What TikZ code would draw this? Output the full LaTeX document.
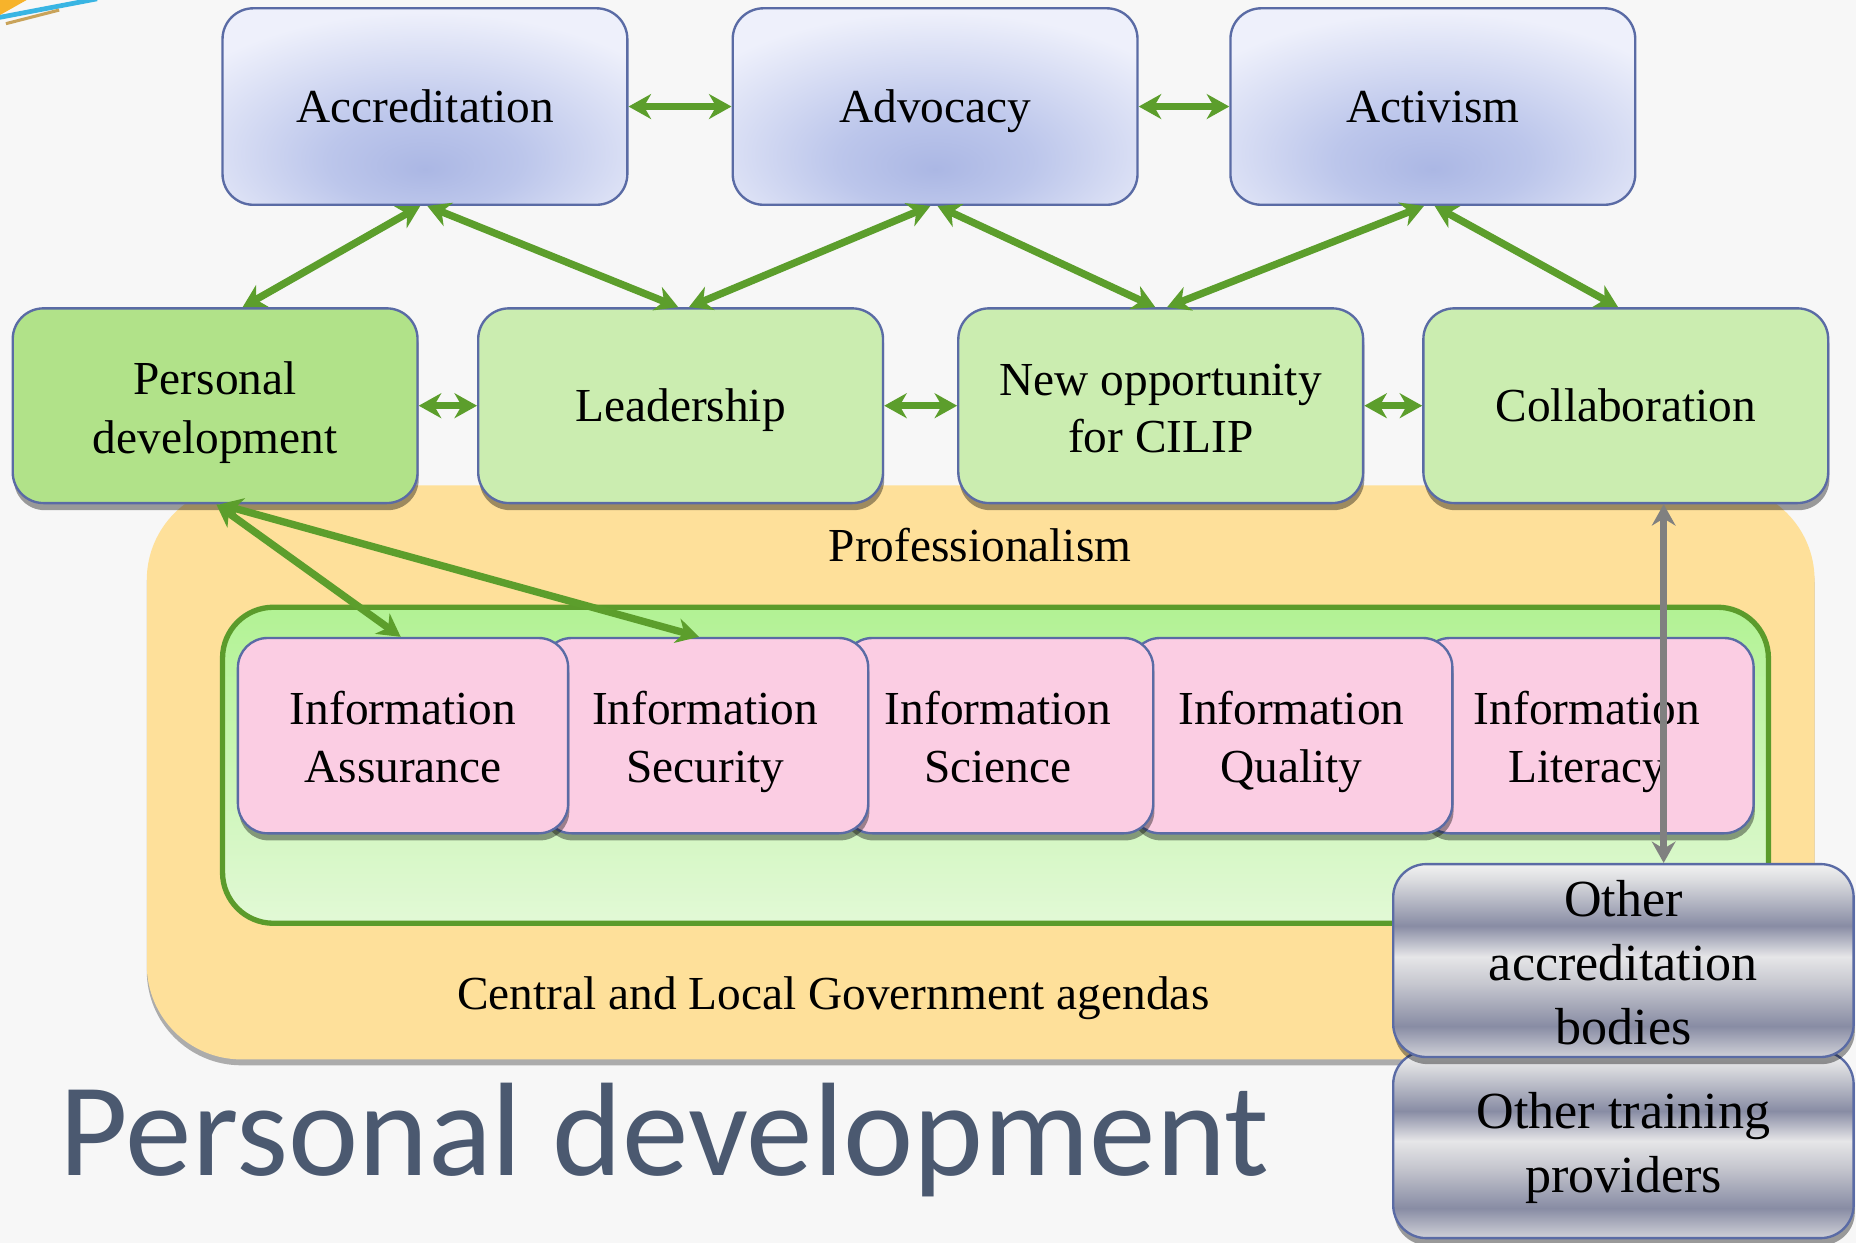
\documentclass[tikz,border=0pt]{standalone}
\usepackage{fontspec}
\setmainfont{Liberation Serif}
\newfontfamily\titlefont{Carlito}
\usetikzlibrary{arrows.meta,shadows,calc}

\newcommand\boxstrut{\rule[-0.24em]{0pt}{1.14em}}
\newcommand\topstrut{\rule{0pt}{1em}}

\definecolor{bgcol}{HTML}{F7F7F7}
\definecolor{bordercol}{HTML}{5A6BA5}
\definecolor{bdark}{HTML}{ABB7E4}
\definecolor{bmid}{HTML}{BCC6EB}
\definecolor{blight}{HTML}{EEF0FB}
\definecolor{pdgreen}{HTML}{B1E289}
\definecolor{lgreen}{HTML}{CBEDB0}
\definecolor{orangecol}{HTML}{FEE09A}
\definecolor{gborder}{HTML}{5B9B2B}
\definecolor{ginnertop}{HTML}{B2F294}
\definecolor{ginnerbot}{HTML}{E2F9D6}
\definecolor{pinkcol}{HTML}{FBCDE3}
\definecolor{arrowgreen}{HTML}{5C9E2C}
\definecolor{arrowgray}{HTML}{808080}
\definecolor{titlecol}{RGB}{75,89,112}
\definecolor{decoorange}{HTML}{F7B32B}
\definecolor{decoblue}{HTML}{39B5E3}
\definecolor{decotan}{HTML}{C9A35A}
\definecolor{mzero}{HTML}{F2F2F2}
\definecolor{mone}{HTML}{DCDDE0}
\definecolor{mtwo}{HTML}{888CA4}
\definecolor{mthree}{HTML}{E6E6E8}
\definecolor{mfour}{HTML}{C6C7CF}
\definecolor{mfive}{HTML}{888CA4}
\definecolor{msix}{HTML}{D0D1D8}

\pgfdeclareradialshading{blueshade}{\pgfpoint{0bp}{-16bp}}{color(0bp)=(bdark); color(12bp)=(bmid); color(34bp)=(blight); color(90bp)=(blight)}
\pgfdeclareverticalshading{metalshade}{100bp}{color(0bp)=(msix); color(25bp)=(msix); color(33bp)=(mfive); color(44bp)=(mfour); color(51bp)=(mthree); color(59bp)=(mtwo); color(71bp)=(mone); color(75bp)=(mzero); color(100bp)=(mzero)}

\begin{document}
\begin{tikzpicture}[x=0.5pt,y=-0.5pt,
  boxbase/.style={draw=bordercol, line width=1pt, rounded corners=13pt, inner sep=0pt, align=center, font=\fontsize{20}{24}\selectfont, execute at begin node={\boxstrut}, execute at end node={\boxstrut}},
  shadowed/.style={drop shadow={shadow xshift=0.5pt, shadow yshift=-3pt, opacity=0.38, fill=black}},
  bluebox/.style={boxbase, shading=blueshade, minimum width=171pt, minimum height=83pt},
  greenbox/.style={boxbase, shadowed, fill=lgreen, minimum width=171pt, minimum height=82.25pt},
  pdbox/.style={greenbox, fill=pdgreen, font=\fontsize{20}{25}\selectfont},
  pinkbox/.style={boxbase, shadowed, fill=pinkcol, rounded corners=12.5pt, minimum height=82.5pt, font=\fontsize{20}{24.5}\selectfont},
  metalbox/.style={boxbase, shadowed, shading=metalshade, rounded corners=14pt, minimum width=194.5pt, font=\fontsize{22}{27}\selectfont},
  plainlabel/.style={inner sep=0pt, font=\fontsize{20}{24}\selectfont, anchor=base},
  garrow/.style={draw=arrowgreen, line width=3.1pt, {Stealth[length=9.5pt,width=10.5pt,inset=3pt]}-{Stealth[length=9.5pt,width=10.5pt,inset=3pt]}},
  grarrow/.style={draw=arrowgray, line width=3pt, {Stealth[length=9pt,width=10pt,inset=3pt]}-{Stealth[length=9pt,width=10pt,inset=3pt]}}
]
\useasboundingbox (0,0) rectangle (1568,1050);
\fill[bgcol] (0,0) rectangle (1568,1050);

% corner decoration
\fill[decoorange] (0,0) -- (22.5,0) -- (0,12.7) -- cycle;
\draw[decoblue, line width=2pt] (-2,15) -- (82,-1);
\draw[decotan, line width=1.3pt] (5,20) -- (50,8.5);

% professionalism region
\path[fill=orangecol, rounded corners=40pt, drop shadow={shadow xshift=0pt, shadow yshift=-2.5pt, opacity=0.3, fill=black}] (124,410) rectangle (1533,895);
% inner green region
\draw[draw=gborder, line width=2.25pt, top color=ginnertop, bottom color=ginnerbot, rounded corners=21.5pt] (188,513) rectangle (1494,780);

\node[plainlabel] (prof) at (828,474) {Professionalism};
\node[plainlabel] (clg) at (704,853) {Central and Local Government agendas};

% pink boxes (right to left so left ones overlap)
\node[pinkbox, minimum width=140.75pt] (il) at (1340.75,621.5) {\topstrut Information\\Literacy};
\node[pinkbox, minimum width=136pt] (iq) at (1091,621.5) {\topstrut Information\\Quality};
\node[pinkbox, minimum width=131.15pt] (isc) at (843.15,621.5) {\topstrut Information\\Science};
\node[pinkbox, minimum width=137.75pt] (is) at (595.75,621.5) {\topstrut Information\\Security};
\node[pinkbox, minimum width=139.5pt] (ia) at (340.5,621.5) {\topstrut Information\\Assurance};

% green row
\node[pdbox] (pd) at (181.75,342.75) {\topstrut Personal\\development};
\node[greenbox] (lead) at (575,342.75) {Leadership};
\node[greenbox] (new) at (980.6,342.75) {\topstrut New opportunity\\for CILIP};
\node[greenbox] (col) at (1373.5,342.75) {Collaboration};

% top row
\node[bluebox] (acc) at (359,90) {Accreditation};
\node[bluebox] (adv) at (790,90) {Advocacy};
\node[bluebox] (act) at (1210.5,90) {Activism};

% green arrows
\draw[garrow] (acc.east) -- (adv.west);
\draw[garrow] (adv.east) -- (act.west);
\draw[garrow] (pd.east) -- (lead.west);
\draw[garrow] (lead.east) -- (new.west);
\draw[garrow] (new.east) -- (col.west);
\draw[garrow] ([xshift=-2pt]acc.south) -- ([xshift=11.6pt]pd.north);
\draw[garrow] ([xshift=1pt]acc.south) -- ([xshift=-1pt]lead.north);
\draw[garrow] ([xshift=-2pt]adv.south) -- ([xshift=3.5pt]lead.north);
\draw[garrow] ([xshift=1pt]adv.south) -- ([xshift=-2.3pt]new.north);
\draw[garrow] ([xshift=-3.75pt]act.south) -- ([xshift=2.7pt]new.north);
\draw[garrow] ([xshift=0.75pt]act.south) -- ([xshift=-3.25pt]col.north);
\draw[garrow] ([xshift=0.5pt]pd.south) -- ([xshift=-1pt]ia.north);
\draw[garrow] ([xshift=2pt]pd.south) -- ([xshift=-2.6pt]is.north);

% other bodies
\node[metalbox, minimum height=79pt] (otp) at (1371.5,967) {\rule{0pt}{0.85em}Other training\\providers};
\node[metalbox, minimum height=81.5pt] (oab) at (1371.5,811.5) {\topstrut Other\\accreditation\\bodies};

\coordinate (gtop) at ([xshift=16pt]col.south);
\draw[grarrow] (gtop) -- (gtop |- oab.north);

% title
\node[anchor=base west, inner sep=0pt, text=titlecol, font=\titlefont\fontsize{56.2}{60}\selectfont] (title) at (50,993) {Personal development};
\end{tikzpicture}
\end{document}
